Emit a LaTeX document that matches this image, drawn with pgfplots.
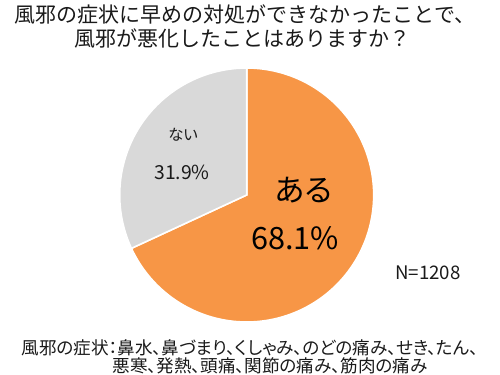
\documentclass[border=0pt]{standalone}
\usepackage{pgfplots}
\pgfplotsset{compat=1.18}
\usepackage{pgfplotstable}
\usepackage{fontspec}
\setmainfont{Noto Sans CJK JP}[RawFeature=+palt]
\newfontfamily\titlefont{Noto Sans CJK JP}
\definecolor{orangeS}{HTML}{F79646}
\definecolor{grayS}{HTML}{D9D9D9}
\definecolor{txt}{HTML}{1A1A1A}
% share data (percent)
\pgfplotstableread{
label value
aru 68.1
nai 31.9
}\piedata
\pgfplotstablegetelem{0}{value}\of\piedata \let\vA\pgfplotsretval
\pgfplotstablegetelem{1}{value}\of\piedata \let\vB\pgfplotsretval
\pgfmathsetmacro{\aStart}{90-3.6*\vA}
\pgfmathsetmacro{\bEnd}{90+3.6*\vB}
\def\cx{246.7}
\def\cy{195}
\def\rr{127}
\begin{document}
\begin{tikzpicture}
\begin{axis}[
  at={(0,0)}, anchor=south west,
  scale only axis, width=375pt, height=281.25pt,
  xmin=0, xmax=500, ymin=0, ymax=375, y dir=reverse,
  hide axis, clip=false,
]
\addplot[fill=orangeS, draw=white, line width=1.2pt, domain=\aStart:90, samples=200]
  ({\cx+\rr*cos(x)},{\cy-\rr*sin(x)}) -- (axis cs:\cx,\cy) -- cycle;
\addplot[fill=grayS, draw=white, line width=1.2pt, domain=90:\bEnd, samples=120]
  ({\cx+\rr*cos(x)},{\cy-\rr*sin(x)}) -- (axis cs:\cx,\cy) -- cycle;
% title
\node[txt, font=\titlefont\fontsize{15.75pt}{18pt}\selectfont] at (axis cs:245,14) {風邪の症状に早めの対処ができなかったことで、};
\node[txt, font=\titlefont\fontsize{15.75pt}{18pt}\selectfont] at (axis cs:242,38) {風邪が悪化したことはありますか？};
% labels
\node[txt, font=\fontsize{11.5pt}{13pt}\selectfont] at (axis cs:183,135) {ない};
\node[txt, font=\fontsize{14.5pt}{16pt}\selectfont] at (axis cs:182,172) {31.9\%};
\node[black, font=\fontsize{23pt}{26pt}\selectfont] at (axis cs:304,190) {ある};
\node[black, font=\fontsize{23pt}{26pt}\selectfont] at (axis cs:295,238) {68.1\%};
\node[txt, font=\fontsize{14pt}{16pt}\selectfont] at (axis cs:428,273) {N=1208};
% footer
\node[txt, font=\fontsize{13.2pt}{15pt}\selectfont] at (axis cs:250,348) {風邪の症状：鼻水、鼻づまり、くしゃみ、のどの痛み、せき、たん、};
\node[txt, font=\fontsize{13.2pt}{15pt}\selectfont] at (axis cs:270,366) {悪寒、発熱、頭痛、関節の痛み、筋肉の痛み};
\end{axis}
\pgfresetboundingbox
\path[use as bounding box] (0,0) rectangle (375pt,281.25pt);
\end{tikzpicture}
\end{document}
